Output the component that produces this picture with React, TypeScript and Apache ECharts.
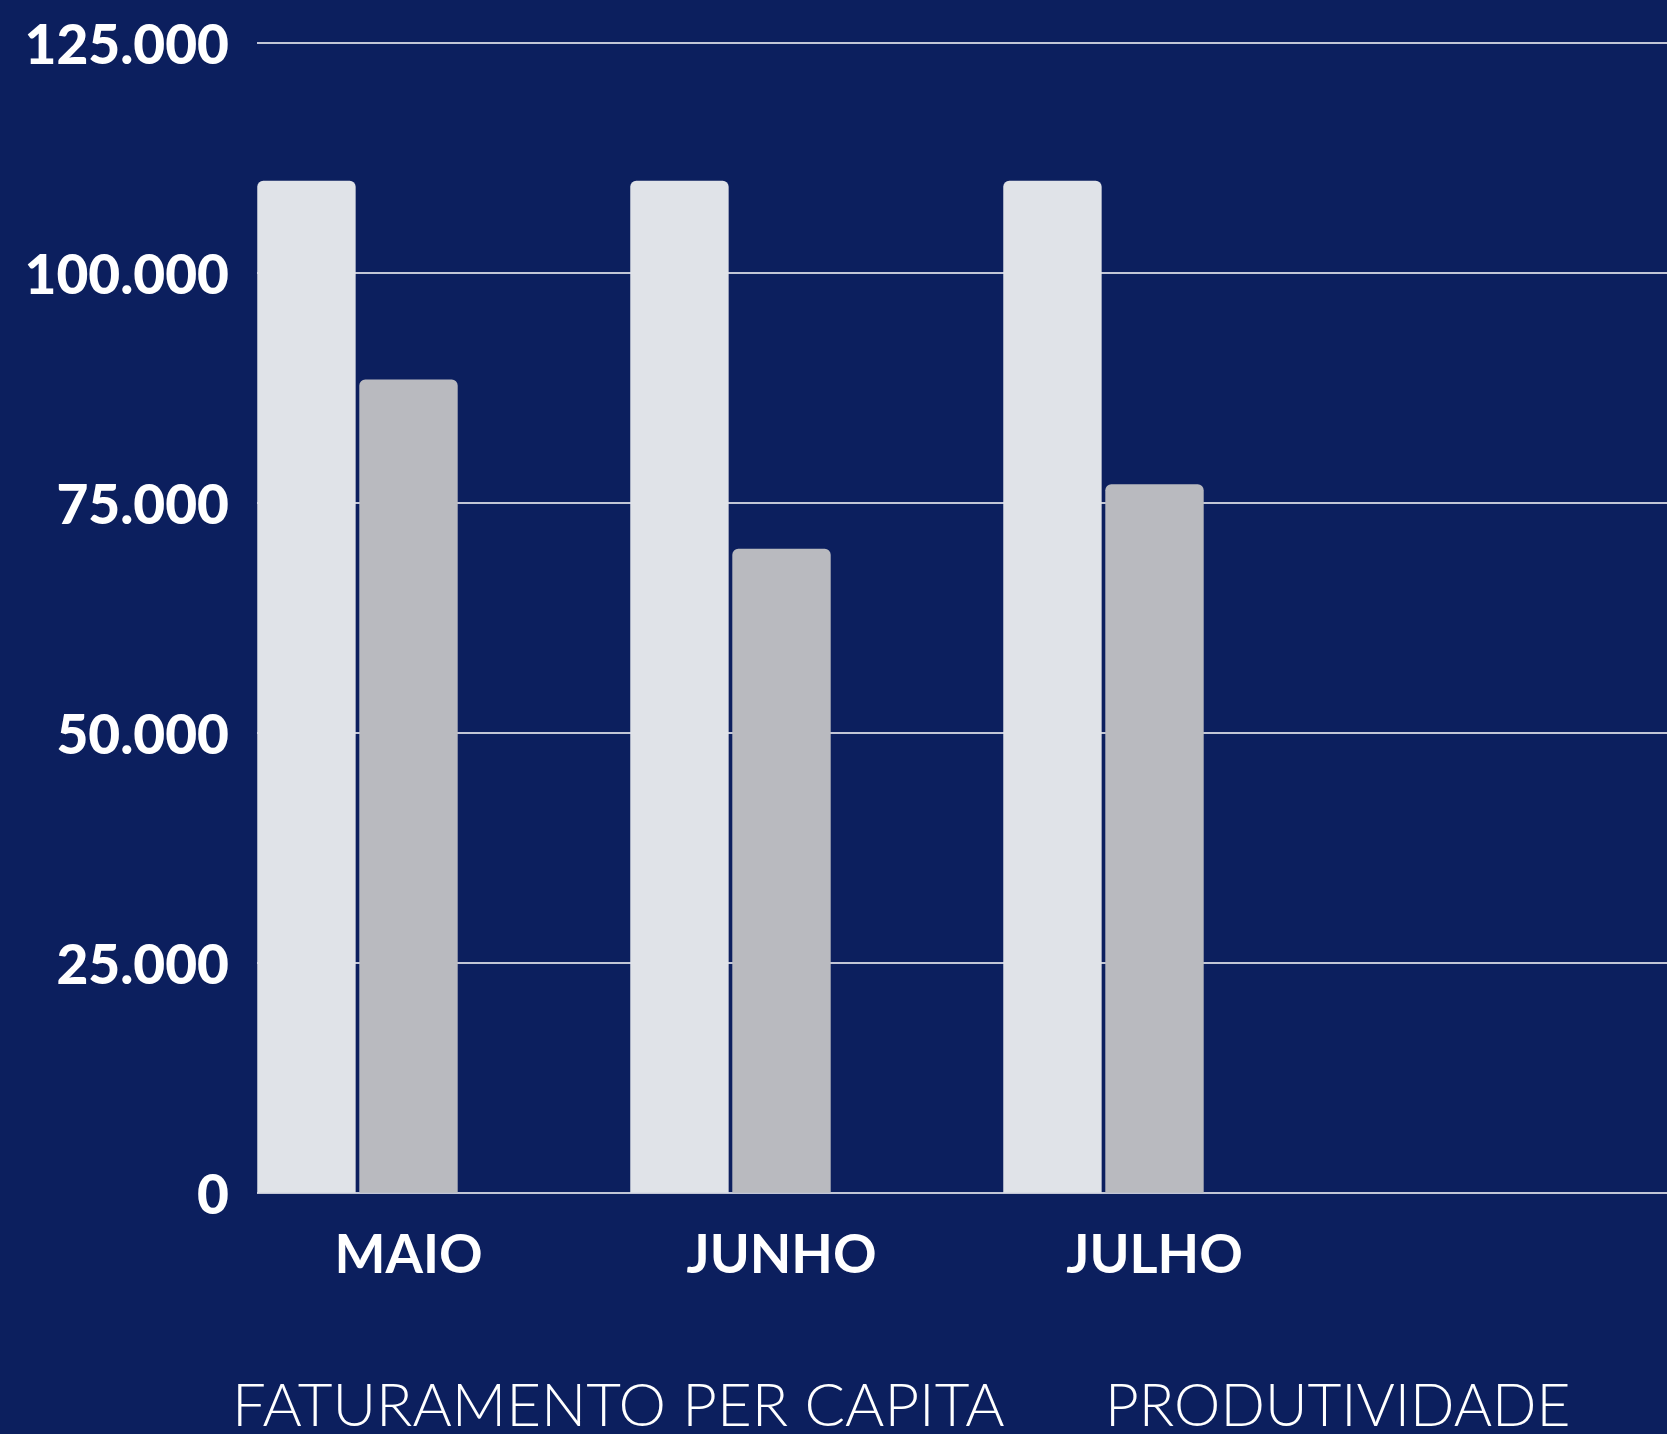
import React, { useEffect, useRef } from 'react';
import * as echarts from 'echarts';

const categories = ['MAIO', 'JUNHO', 'JULHO'];
const faturamentoPerCapita = [110000, 110000, 110000];
const produtividade = [88400, 70000, 77000];
const spacer = ['-', '-', '-'];
const yMin = 0;
const yMax = 125000;
const yInterval = 25000;

const BG = '#0c1f5e';

function fmt(v: number) {
  return String(v).replace(/\B(?=(\d{3})+(?!\d))/g, '.');
}

export default function App() {
  const ref = useRef<HTMLDivElement>(null);
  useEffect(() => {
    document.body.style.margin = '0';
    document.body.style.background = BG;
    const chart = echarts.init(ref.current!, null, { renderer: 'svg' });
    const legendText = {
      color: '#ffffff',
      fontFamily: 'Lato',
      fontWeight: 300,
      fontSize: 60,
      lineHeight: 60,
    };
    chart.setOption({
      backgroundColor: BG,
      animation: false,
      grid: [
        { left: 222, right: 326, top: 42.7, bottom: 241.3 },
        { left: 257, right: 0, top: 42.7, bottom: 241.3 },
      ],
      xAxis: [
        {
          type: 'category',
          gridIndex: 0,
          data: categories,
          axisLine: { show: false },
          axisTick: { show: false },
          axisLabel: {
            color: '#ffffff',
            fontFamily: 'Lato',
            fontWeight: 'bold',
            fontSize: 54,
            lineHeight: 54,
            margin: 33,
          },
        },
        { type: 'value', gridIndex: 1, show: false, min: 0, max: 1 },
      ],
      yAxis: [
        { type: 'value', gridIndex: 0, min: yMin, max: yMax, show: false },
        {
          type: 'value',
          gridIndex: 1,
          min: yMin,
          max: yMax,
          interval: yInterval,
          axisLine: { show: false },
          axisTick: { show: false },
          splitLine: { lineStyle: { color: '#ffffff', width: 1.6 } },
          axisLabel: {
            formatter: (v: number) => fmt(v),
            color: '#ffffff',
            fontFamily: 'Lato',
            fontWeight: 900,
            fontSize: 55,
            margin: 28,
          },
        },
      ],
      legend: [
        {
          data: ['FATURAMENTO PER CAPITA'],
          left: 227,
          top: 1373,
          padding: 0,
          itemWidth: 0,
          itemHeight: 0,
          selectedMode: false,
          textStyle: legendText,
        },
        {
          data: ['PRODUTIVIDADE'],
          left: 1100,
          top: 1373,
          padding: 0,
          itemWidth: 0,
          itemHeight: 0,
          selectedMode: false,
          textStyle: { ...legendText, fontSize: 58.5 },
        },
      ],
      series: [
        {
          name: 'FATURAMENTO PER CAPITA',
          type: 'bar',
          xAxisIndex: 0,
          yAxisIndex: 0,
          data: faturamentoPerCapita,
          barWidth: 98.4,
          barGap: '3.7%',
          itemStyle: { color: '#e0e3e8', borderRadius: [6, 6, 0, 0] },
        },
        {
          name: 'PRODUTIVIDADE',
          type: 'bar',
          xAxisIndex: 0,
          yAxisIndex: 0,
          data: produtividade,
          barWidth: 98.4,
          barGap: '3.7%',
          itemStyle: { color: '#b9babf', borderRadius: [6, 6, 0, 0] },
        },
        {
          name: 'spacer',
          type: 'bar',
          xAxisIndex: 0,
          yAxisIndex: 0,
          data: spacer,
          barWidth: 98.4,
          barGap: '3.7%',
          itemStyle: { color: 'transparent' },
        },
      ],
    });
    return () => chart.dispose();
  }, []);
  return <div ref={ref} style={{ width: 1667, height: 1434 }} />;
}
